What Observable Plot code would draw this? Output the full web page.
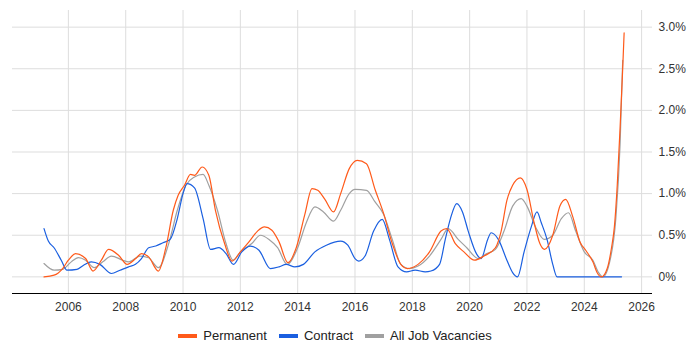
<!DOCTYPE html>
<html><head><meta charset="utf-8">
<script src="https://cdn.jsdelivr.net/npm/d3@7"></script>
<script src="https://cdn.jsdelivr.net/npm/@observablehq/plot@0.6"></script>
<style>
body{margin:0;background:#fff;font-family:"Liberation Sans",Arial,sans-serif;}
#legend{display:flex;justify-content:center;gap:12px;font-size:13px;color:#222;margin-top:13px;padding-right:30px;}
#legend span{display:flex;align-items:center;}
#legend i{display:inline-block;width:19px;height:4px;margin-right:6px;}
</style></head><body>
<div id="chart"></div>
<div id="legend"></div>
<script>
const seriesNames = ["Permanent", "Contract", "All Job Vacancies"];
const seriesColors = ["#ff5a1a", "#1a5fe0", "#a0a0a0"];

const permYears = [2005.15,2005.5,2005.8,2006.0,2006.25,2006.6,2006.86,2007.15,2007.4,2007.75,2008.05,2008.35,2008.55,2008.8,2009.14,2009.4,2009.66,2009.83,2010.05,2010.26,2010.4,2010.67,2010.9,2011.13,2011.45,2011.71,2012.0,2012.3,2012.6,2012.84,2013.1,2013.35,2013.66,2013.95,2014.25,2014.5,2014.7,2014.95,2015.25,2015.5,2015.8,2016.08,2016.4,2016.7,2017.0,2017.3,2017.6,2017.83,2018.2,2018.6,2019.0,2019.2,2019.5,2019.8,2020.17,2020.5,2020.9,2021.1,2021.3,2021.5,2021.77,2022.0,2022.25,2022.45,2022.61,2022.9,2023.15,2023.35,2023.6,2023.85,2024.05,2024.3,2024.45,2024.6,2024.8,2024.95,2025.05,2025.15,2025.25,2025.34,2025.39];
const permVals  = [0.0,0.02,0.1,0.2,0.28,0.22,0.07,0.2,0.33,0.26,0.15,0.22,0.28,0.24,0.07,0.35,0.8,0.98,1.1,1.23,1.22,1.32,1.22,0.8,0.4,0.19,0.3,0.42,0.55,0.6,0.56,0.42,0.17,0.35,0.75,1.06,1.04,0.93,0.78,1.0,1.3,1.4,1.36,1.05,0.76,0.4,0.15,0.1,0.15,0.3,0.55,0.58,0.4,0.3,0.2,0.25,0.35,0.55,0.92,1.1,1.19,1.05,0.65,0.4,0.33,0.5,0.85,0.93,0.72,0.42,0.32,0.18,0.05,0.0,0.1,0.35,0.6,1.1,1.8,2.5,2.93];

const contYears = [2005.15,2005.3,2005.5,2005.75,2005.95,2006.3,2006.53,2006.8,2007.1,2007.5,2007.8,2008.1,2008.34,2008.55,2008.8,2009.05,2009.3,2009.55,2009.8,2010.0,2010.14,2010.4,2010.7,2010.96,2011.25,2011.5,2011.76,2012.05,2012.35,2012.65,2013.05,2013.35,2013.6,2013.9,2014.2,2014.6,2015.0,2015.5,2015.75,2016.0,2016.13,2016.35,2016.65,2016.95,2017.2,2017.5,2017.8,2018.1,2018.45,2018.65,2018.95,2019.15,2019.33,2019.55,2019.75,2019.95,2020.25,2020.4,2020.63,2020.75,2021.0,2021.3,2021.5,2021.67,2021.9,2022.15,2022.35,2022.5,2022.7,2022.9,2023.05,2024.0,2025.3];
const contVals  = [0.58,0.43,0.35,0.2,0.08,0.09,0.14,0.18,0.15,0.04,0.08,0.12,0.15,0.22,0.35,0.37,0.41,0.45,0.7,1.0,1.12,1.07,0.7,0.33,0.35,0.28,0.15,0.3,0.37,0.32,0.1,0.12,0.15,0.12,0.15,0.3,0.38,0.43,0.38,0.22,0.19,0.25,0.55,0.69,0.45,0.12,0.06,0.08,0.06,0.07,0.15,0.45,0.7,0.88,0.78,0.55,0.27,0.22,0.45,0.53,0.45,0.2,0.05,0.0,0.3,0.6,0.78,0.65,0.45,0.15,0.0,0.0,0.0];

const allYears = [2005.15,2005.5,2005.8,2006.1,2006.35,2006.6,2006.9,2007.2,2007.5,2007.9,2008.1,2008.5,2008.8,2009.14,2009.5,2009.8,2010.1,2010.4,2010.7,2010.9,2011.2,2011.5,2011.75,2012.0,2012.4,2012.7,2013.0,2013.3,2013.63,2014.0,2014.3,2014.6,2014.9,2015.25,2015.5,2015.8,2016.0,2016.4,2016.7,2017.0,2017.3,2017.6,2017.9,2018.2,2018.6,2019.0,2019.25,2019.6,2019.9,2020.3,2020.6,2020.9,2021.2,2021.5,2021.8,2022.0,2022.3,2022.6,2022.9,2023.2,2023.45,2023.7,2024.0,2024.3,2024.5,2024.65,2024.9,2025.1,2025.25,2025.34];
const allVals  = [0.16,0.08,0.09,0.18,0.23,0.2,0.11,0.18,0.25,0.2,0.18,0.25,0.23,0.11,0.4,0.8,1.1,1.2,1.23,1.1,0.8,0.4,0.2,0.3,0.4,0.5,0.45,0.35,0.15,0.35,0.65,0.84,0.78,0.67,0.8,1.0,1.05,1.04,0.9,0.75,0.45,0.15,0.1,0.13,0.25,0.45,0.58,0.45,0.35,0.22,0.28,0.33,0.55,0.85,0.94,0.85,0.6,0.45,0.5,0.7,0.77,0.55,0.3,0.2,0.05,0.0,0.2,0.7,1.6,2.6];

const xTicks = [2006,2008,2010,2012,2014,2016,2018,2020,2022,2024,2026];
const yTicks = [0,0.5,1.0,1.5,2.0,2.5,3.0];

const toRows = (ys, vs, s) => ys.map((y, i) => ({year: y, value: vs[i], series: s}));
const rows = [
  ...toRows(allYears, allVals, seriesNames[2]),
  ...toRows(contYears, contVals, seriesNames[1]),
  ...toRows(permYears, permVals, seriesNames[0])
];

const chart = Plot.plot({
  width: 700, height: 315,
  marginLeft: 12, marginRight: 48, marginTop: 10, marginBottom: 22,
  style: {fontFamily: '"Liberation Sans", Arial, sans-serif', fontSize: "12px", color: "#333"},
  x: {domain: [2004.05, 2026.38], ticks: xTicks, tickFormat: d => String(d), tickSize: 0, label: null},
  y: {domain: [-0.2, 3.2], ticks: yTicks, tickFormat: d => d === 0 ? "0%" : d.toFixed(1) + "%", axis: "right", tickSize: 0, tickPadding: 6, label: null},
  color: {domain: seriesNames, range: seriesColors},
  marks: [
    Plot.gridY(yTicks, {stroke: "#ddd", strokeOpacity: 1}),
    Plot.gridX(xTicks, {stroke: "#ddd", strokeOpacity: 1}),
    Plot.ruleY([-0.2], {stroke: "#000"}),
    Plot.line(rows, {x: "year", y: "value", z: "series", stroke: "series", strokeWidth: 1.2, curve: "monotone-x"})
  ]
});
document.getElementById("chart").appendChild(chart);

const lg = document.getElementById("legend");
seriesNames.forEach((n, i) => {
  const s = document.createElement("span");
  s.innerHTML = `<i style="background:${seriesColors[i]}"></i>${n}`;
  lg.appendChild(s);
});
</script>
</body></html>
